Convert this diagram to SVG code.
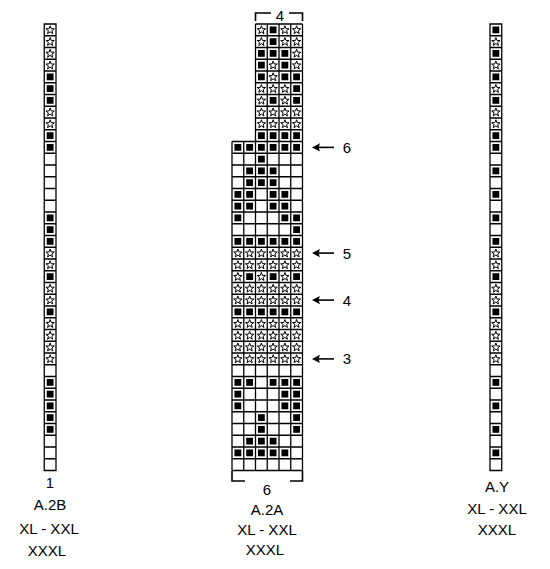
<svg xmlns="http://www.w3.org/2000/svg" width="550" height="569" viewBox="0 0 550 569">
<style>
.g{fill:none;stroke:#000;stroke-width:0.11}
.t{font-family:"Liberation Sans",Arial,sans-serif;font-size:15px;fill:#000;text-anchor:middle}
.br{fill:none;stroke:#000;stroke-width:1.6}
</style>
<defs>
<rect id="b" x="0.21" y="0.21" width="0.58" height="0.58" fill="#000"/>
<polygon id="s" points="0.5,0.15 0.59,0.395 0.855,0.405 0.648,0.568 0.72,0.825 0.5,0.675 0.28,0.825 0.352,0.568 0.145,0.405 0.41,0.395" fill="none" stroke="#000" stroke-width="0.085"/>
<g id="S6"><use href="#s" x="0"/><use href="#s" x="1"/><use href="#s" x="2"/><use href="#s" x="3"/><use href="#s" x="4"/><use href="#s" x="5"/></g>
<g id="B6"><use href="#b" x="0"/><use href="#b" x="1"/><use href="#b" x="2"/><use href="#b" x="3"/><use href="#b" x="4"/><use href="#b" x="5"/></g>
<g id="arr"><path d="M6 0H22" stroke="#000" stroke-width="1.6"/><path d="M0 0L8 -4.2L6.5 0L8 4.2Z" fill="#000"/></g>
</defs>
<rect width="550" height="569" fill="#fff"/>

<g id="chart-A2B">
<g transform="translate(44.25,24) scale(11.75)">
<path class="g" d="M0 0H1V38H0ZM0 1H1M0 2H1M0 3H1M0 4H1M0 5H1M0 6H1M0 7H1M0 8H1M0 9H1M0 10H1M0 11H1M0 12H1M0 13H1M0 14H1M0 15H1M0 16H1M0 17H1M0 18H1M0 19H1M0 20H1M0 21H1M0 22H1M0 23H1M0 24H1M0 25H1M0 26H1M0 27H1M0 28H1M0 29H1M0 30H1M0 31H1M0 32H1M0 33H1M0 34H1M0 35H1M0 36H1M0 37H1"/>
<use href="#s" y="0"/><use href="#s" y="1"/><use href="#s" y="2"/><use href="#s" y="3"/>
<use href="#b" y="4"/><use href="#b" y="5"/><use href="#b" y="6"/>
<use href="#s" y="7"/><use href="#s" y="8"/>
<use href="#b" y="9"/><use href="#b" y="10"/>
<use href="#b" y="16"/><use href="#b" y="17"/><use href="#b" y="18"/>
<use href="#s" y="19"/><use href="#s" y="20"/>
<use href="#b" y="21"/>
<use href="#s" y="22"/><use href="#s" y="23"/>
<use href="#b" y="24"/>
<use href="#s" y="25"/><use href="#s" y="26"/><use href="#s" y="27"/><use href="#s" y="28"/>
<use href="#b" y="30"/><use href="#b" y="31"/><use href="#b" y="32"/><use href="#b" y="33"/><use href="#b" y="34"/>
</g>
<text class="t" x="50" y="488">1</text>
<text class="t" x="50" y="510">A.2B</text>
<text class="t" x="49" y="534">XL - XXL</text>
<text class="t" x="47" y="556">XXXL</text>
</g>

<g id="chart-A2A">
<g transform="translate(232,24) scale(11.75)">
<path class="g" d="M2 0H6M2 1H6M2 2H6M2 3H6M2 4H6M2 5H6M2 6H6M2 7H6M2 8H6M2 9H6M0 10H6M0 11H6M0 12H6M0 13H6M0 14H6M0 15H6M0 16H6M0 17H6M0 18H6M0 19H6M0 20H6M0 21H6M0 22H6M0 23H6M0 24H6M0 25H6M0 26H6M0 27H6M0 28H6M0 29H6M0 30H6M0 31H6M0 32H6M0 33H6M0 34H6M0 35H6M0 36H6M0 37H6M0 38H6M2 0V38M3 0V38M4 0V38M5 0V38M6 0V38M0 10V38M1 10V38"/>
<use href="#s" x="2" y="0"/><use href="#b" x="3" y="0"/><use href="#s" x="4" y="0"/><use href="#s" x="5" y="0"/>
<use href="#s" x="2" y="1"/><use href="#b" x="3" y="1"/><use href="#s" x="4" y="1"/><use href="#s" x="5" y="1"/>
<use href="#b" x="2" y="2"/><use href="#b" x="3" y="2"/><use href="#b" x="4" y="2"/><use href="#s" x="5" y="2"/>
<use href="#b" x="2" y="3"/><use href="#s" x="3" y="3"/><use href="#b" x="4" y="3"/><use href="#s" x="5" y="3"/>
<use href="#b" x="2" y="4"/><use href="#s" x="3" y="4"/><use href="#b" x="4" y="4"/><use href="#b" x="5" y="4"/>
<use href="#s" x="2" y="5"/><use href="#s" x="3" y="5"/><use href="#s" x="4" y="5"/><use href="#b" x="5" y="5"/>
<use href="#s" x="2" y="6"/><use href="#b" x="3" y="6"/><use href="#s" x="4" y="6"/><use href="#b" x="5" y="6"/>
<use href="#s" x="2" y="7"/><use href="#s" x="3" y="7"/><use href="#s" x="4" y="7"/><use href="#s" x="5" y="7"/>
<use href="#s" x="2" y="8"/><use href="#s" x="3" y="8"/><use href="#s" x="4" y="8"/><use href="#s" x="5" y="8"/>
<use href="#b" x="2" y="9"/><use href="#b" x="3" y="9"/><use href="#b" x="4" y="9"/><use href="#b" x="5" y="9"/>
<use href="#B6" y="10"/>
<use href="#b" x="2" y="11"/>
<use href="#b" x="1" y="12"/><use href="#b" x="2" y="12"/><use href="#b" x="3" y="12"/>
<use href="#b" x="1" y="13"/><use href="#b" x="2" y="13"/><use href="#b" x="3" y="13"/>
<use href="#b" x="0" y="14"/><use href="#b" x="1" y="14"/><use href="#b" x="3" y="14"/><use href="#b" x="4" y="14"/>
<use href="#b" x="0" y="15"/><use href="#b" x="1" y="15"/><use href="#b" x="3" y="15"/><use href="#b" x="4" y="15"/>
<use href="#b" x="0" y="16"/><use href="#b" x="4" y="16"/><use href="#b" x="5" y="16"/>
<use href="#b" x="5" y="17"/>
<use href="#B6" y="18"/>
<use href="#S6" y="19"/>
<use href="#S6" y="20"/>
<use href="#s" x="0" y="21"/><use href="#b" x="1" y="21"/><use href="#s" x="2" y="21"/><use href="#b" x="3" y="21"/><use href="#s" x="4" y="21"/><use href="#b" x="5" y="21"/>
<use href="#S6" y="22"/>
<use href="#S6" y="23"/>
<use href="#B6" y="24"/>
<use href="#S6" y="25"/>
<use href="#S6" y="26"/>
<use href="#S6" y="27"/>
<use href="#S6" y="28"/>
<use href="#b" x="0" y="30"/><use href="#b" x="1" y="30"/><use href="#b" x="3" y="30"/><use href="#b" x="4" y="30"/><use href="#b" x="5" y="30"/>
<use href="#b" x="0" y="31"/><use href="#b" x="4" y="31"/><use href="#b" x="5" y="31"/>
<use href="#b" x="0" y="32"/><use href="#b" x="4" y="32"/><use href="#b" x="5" y="32"/>
<use href="#b" x="2" y="33"/><use href="#b" x="5" y="33"/>
<use href="#b" x="2" y="34"/><use href="#b" x="5" y="34"/>
<use href="#b" x="1" y="35"/><use href="#b" x="2" y="35"/><use href="#b" x="3" y="35"/>
<use href="#b" x="0" y="36"/><use href="#b" x="1" y="36"/><use href="#b" x="2" y="36"/><use href="#b" x="3" y="36"/><use href="#b" x="4" y="36"/>
</g>
<path class="br" d="M255.5 21V13H271M289 13H302.5V21"/>
<text class="t" x="280" y="20.5">4</text>
<path class="br" d="M232 471V481H245M290 481H302.5V471"/>
<text class="t" x="267" y="495">6</text>
<text class="t" x="267" y="515">A.2A</text>
<text class="t" x="267" y="535">XL - XXL</text>
<text class="t" x="265" y="555">XXXL</text>
</g>

<g id="chart-AY">
<g transform="translate(490,24) scale(11.75)">
<path class="g" d="M0 0H1V38H0ZM0 1H1M0 2H1M0 3H1M0 4H1M0 5H1M0 6H1M0 7H1M0 8H1M0 9H1M0 10H1M0 11H1M0 12H1M0 13H1M0 14H1M0 15H1M0 16H1M0 17H1M0 18H1M0 19H1M0 20H1M0 21H1M0 22H1M0 23H1M0 24H1M0 25H1M0 26H1M0 27H1M0 28H1M0 29H1M0 30H1M0 31H1M0 32H1M0 33H1M0 34H1M0 35H1M0 36H1M0 37H1"/>
<use href="#b" y="0"/><use href="#s" y="1"/><use href="#b" y="2"/><use href="#s" y="3"/><use href="#b" y="4"/><use href="#s" y="5"/><use href="#b" y="6"/><use href="#s" y="7"/><use href="#s" y="8"/><use href="#b" y="9"/><use href="#b" y="10"/>
<use href="#b" y="12"/><use href="#b" y="14"/><use href="#b" y="16"/><use href="#b" y="18"/>
<use href="#s" y="19"/><use href="#s" y="20"/><use href="#b" y="21"/><use href="#s" y="22"/><use href="#s" y="23"/><use href="#b" y="24"/>
<use href="#s" y="25"/><use href="#s" y="26"/><use href="#s" y="27"/><use href="#s" y="28"/>
<use href="#b" y="30"/><use href="#b" y="32"/><use href="#b" y="34"/><use href="#b" y="36"/>
</g>
<text class="t" x="497" y="492">A.Y</text>
<text class="t" x="497" y="514">XL - XXL</text>
<text class="t" x="497" y="535">XXXL</text>
</g>

<g id="row-markers">
<use href="#arr" x="312" y="147.4"/>
<use href="#arr" x="312" y="253.1"/>
<use href="#arr" x="312" y="300.1"/>
<use href="#arr" x="312" y="358.9"/>
<text class="t" x="347" y="152.8">6</text>
<text class="t" x="347" y="258.5">5</text>
<text class="t" x="347" y="305.5">4</text>
<text class="t" x="347" y="364.3">3</text>
</g>
</svg>
